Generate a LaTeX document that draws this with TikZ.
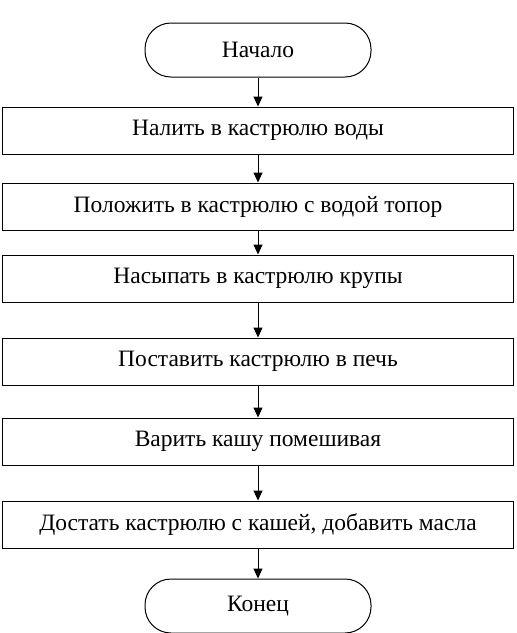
\documentclass[tikz,border=0pt]{standalone}
\usepackage{fontspec}
\setmainfont{Liberation Serif}
\usetikzlibrary{arrows.meta, positioning}
\tikzset{term/.style={rectangle,draw,rounded corners=26pt,minimum width=226pt,minimum height=54pt,inner sep=0pt},act/.style={rectangle,draw,minimum width=511pt,minimum height=47pt,inner sep=0pt},line/.style={-{Triangle[length=10pt,width=9pt]}}}

\begin{document}
\begin{tikzpicture}[x=1pt,y=1pt,line width=1pt,font=\fontsize{23.5}{27}\selectfont]
\useasboundingbox (0,0) rectangle (517,-633);
\node[term] (start) at (258,-50) {Начало};
\node[act, below=29pt of start] (s1) {Налить в кастрюлю воды};
\node[act, below=28pt of s1] (s2) {Положить в кастрюлю с водой топор};
\node[act, below=24pt of s2] (s3) {Насыпать в кастрюлю крупы};
\node[act, below=35pt of s3] (s4) {Поставить кастрюлю в печь};
\node[act, below=32pt of s4] (s5) {Варить кашу помешивая};
\node[act, below=35pt of s5] (s6) {Достать кастрюлю с кашей, добавить масла};
\node[term, below=30pt of s6] (stop) {Конец};
\draw[line] (start) -- (s1);
\draw[line] (s1) -- (s2);
\draw[line] (s2) -- (s3);
\draw[line] (s3) -- (s4);
\draw[line] (s4) -- (s5);
\draw[line] (s5) -- (s6);
\draw[line] (s6) -- (stop);
\end{tikzpicture}
\end{document}
